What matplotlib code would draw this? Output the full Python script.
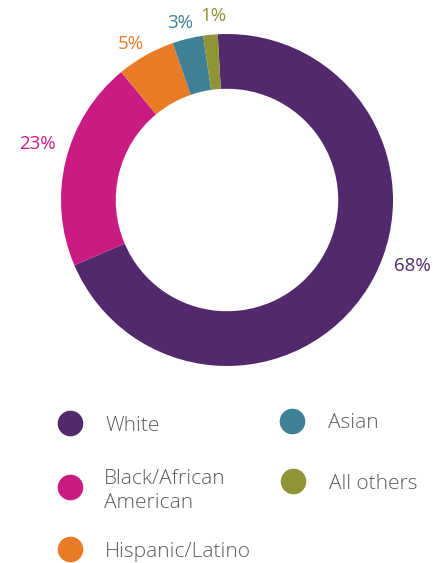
import matplotlib
matplotlib.use("Agg")
import matplotlib.pyplot as plt

categories = ["White", "Black/African\nAmerican", "Hispanic/Latino", "Asian", "All others"]
shares = [69.4, 20.4, 5.7, 3.0, 1.4]          # angular shares as drawn
label_texts = ["68%", "23%", "5%", "3%", "1%"]
colors = ["#522a6b", "#ca1b82", "#e97b26", "#3e8096", "#919337"]

W, H = 435, 563
fig = plt.figure(figsize=(W / 100, H / 100), dpi=100)
ax = fig.add_axes([0, 0, 1, 1])

def py(y):
    return H - y

cx, cy, R = 227, 200, 166
ax.pie(shares, colors=colors, startangle=93.2, counterclock=False,
       center=(cx, py(cy)), radius=R,
       wedgeprops=dict(width=R * 0.33, linewidth=0))

label_pos = [(412, 266), (37, 144), (131, 44), (180, 23), (213, 16)]
for (x, y), t, c in zip(label_pos, label_texts, colors):
    ax.text(x, py(y), t, color=c, fontsize=13.5, ha="center", va="center",
            family="Open Sans", fontweight="medium")

legend_pos = [(70, 423, 105, 426), (70, 487, 104, 491), (70, 549, 105, 552),
              (292, 421, 328, 423), (293, 481, 329, 484)]
for (mx, my, tx, ty), name, c in zip(legend_pos, categories, colors):
    ax.scatter([mx], [py(my)], s=340, color=c, linewidths=0, zorder=3)
    ax.text(tx, py(ty), name, color="#5c5c5c", fontsize=15, ha="left",
            va="center", family="Open Sans", fontweight="light",
            linespacing=1.3)

ax.set_xlim(0, W)
ax.set_ylim(0, H)
ax.set_aspect("auto")
ax.axis("off")
fig.savefig("out.png", dpi=100)
